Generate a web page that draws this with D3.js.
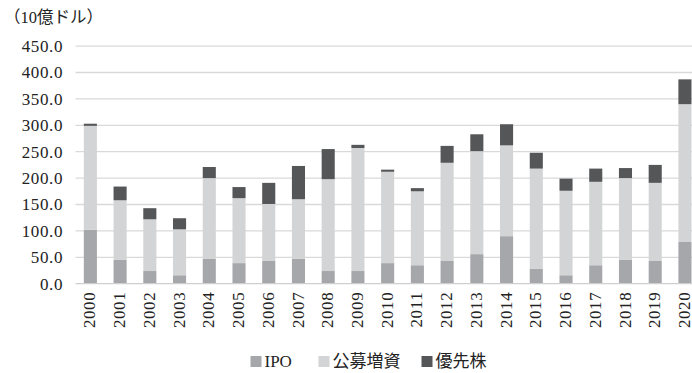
<!DOCTYPE html>
<html>
<head>
<meta charset="utf-8">
<script src="https://cdn.jsdelivr.net/npm/d3@7"></script>
<style>
  html, body { margin: 0; padding: 0; background: #fff; }
  svg { display: block; }
</style>
</head>
<body>
<svg id="chart" width="692" height="373"></svg>
<script>
// Equity issuance by type, billions of USD
const years = ["2000","2001","2002","2003","2004","2005","2006","2007","2008","2009","2010",
               "2011","2012","2013","2014","2015","2016","2017","2018","2019","2020"];
const ipo       = [102, 45, 24, 16, 47, 39, 43, 47, 24, 24, 39, 35, 43, 56, 90, 28, 16, 35, 45, 43, 79];
const secondary = [197,113, 98, 87,153,123,108,113,174,233,173,140,186,195,172,190,160,158,155,148,261];
const preferred = [  4, 26, 21, 21, 21, 21, 40, 63, 57,  6,  4,  6, 32, 32, 40, 30, 23, 25, 19, 34, 47];
const seriesNames = ["IPO", "公募増資", "優先株"];
const yTicks = [0, 50, 100, 150, 200, 250, 300, 350, 400, 450];
const unitLabel = "（10億ドル）";

const colors = ["#a6a7aa", "#d3d4d5", "#555658"];
const serif = "'Liberation Serif', 'Noto Sans CJK JP', serif";

const svg = d3.select("#chart");
const plotLeft = 75.5, plotRight = 699.8, plotTop = 46.1, plotBottom = 283.7;

const x = d3.scaleBand().domain(years).range([plotLeft, plotRight])
  .paddingInner(0.56).paddingOuter(0.28);
const y = d3.scaleLinear().domain([0, 450]).range([plotBottom, plotTop]);

const rows = years.map((yr, i) => ({ year: yr, s0: ipo[i], s1: secondary[i], s2: preferred[i] }));
const stacked = d3.stack().keys(["s0", "s1", "s2"])(rows);

// gridlines
svg.append("g").selectAll("line").data(yTicks.filter(t => t > 0)).join("line")
  .attr("x1", plotLeft).attr("x2", 692)
  .attr("y1", d => y(d)).attr("y2", d => y(d))
  .attr("stroke", "#d9d9d9").attr("stroke-width", 1.3);

// bars
svg.append("g").selectAll("g").data(stacked).join("g")
  .attr("fill", (d, i) => colors[i])
  .selectAll("rect").data(d => d).join("rect")
  .attr("x", d => x(d.data.year))
  .attr("width", x.bandwidth())
  .attr("y", d => y(d[1]))
  .attr("height", d => y(d[0]) - y(d[1]));

// baseline
svg.append("line").attr("x1", plotLeft).attr("x2", 692)
  .attr("y1", y(0)).attr("y2", y(0))
  .attr("stroke", "#cfcfcf").attr("stroke-width", 1.3);

// y axis
const yAxis = d3.axisLeft(y).tickValues(yTicks).tickFormat(d3.format(".1f")).tickSize(0).tickPadding(0);
const ya = svg.append("g").attr("transform", `translate(63,0)`).call(yAxis);
ya.select(".domain").remove();
ya.selectAll("text")
  .style("font-family", serif).style("font-size", "17px").style("fill", "#222")
  .style("letter-spacing", "0.6px");

// x axis, rotated year labels
const xAxis = d3.axisBottom(x).tickSize(0).tickPadding(0);
const xa = svg.append("g").attr("transform", `translate(0,${plotBottom})`).call(xAxis);
xa.select(".domain").remove();
xa.selectAll("text")
  .style("font-family", serif).style("font-size", "17px").style("fill", "#222")
  .style("letter-spacing", "0.6px")
  .attr("transform", "rotate(-90)")
  .attr("text-anchor", "end")
  .attr("x", -8).attr("y", 0).attr("dy", "0.3em");

// unit label
svg.append("text").attr("x", 4).attr("y", 23)
  .style("font-family", serif).style("font-size", "16.5px").style("fill", "#222")
  .text(unitLabel);

// legend
const legendX = [250.5, 318.5, 421.5];
const lg = svg.append("g");
seriesNames.forEach((name, i) => {
  lg.append("rect").attr("x", legendX[i]).attr("y", 356).attr("width", 11).attr("height", 11)
    .attr("fill", colors[i]);
  lg.append("text").attr("x", legendX[i] + 14).attr("y", 367)
    .style("font-family", serif).style("font-size", "17px").style("fill", "#222")
    .text(name);
});
</script>
</body>
</html>
